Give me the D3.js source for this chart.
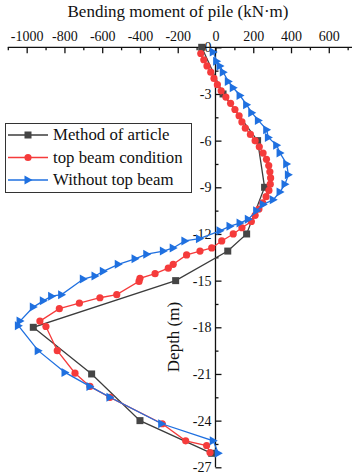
<!DOCTYPE html>
<html>
<head>
<meta charset="utf-8">
<script src="https://cdn.jsdelivr.net/npm/d3@7"></script>
<style>
body { margin: 0; background: #fff; }
svg text { font-family: "Liberation Serif", "Times New Roman", Times, Tinos, "DejaVu Serif", serif !important; fill: #111; }
</style>
</head>
<body>
<svg id="chart" width="353" height="476"></svg>
<script>
// depth (m) and bending moment (kN·m)
var articleDepth = [0, -3, -6, -9, -12, -13.1, -15, -18, -21, -24, -26.1]
var articleMoment = [-73, 40, 223, 260, 165, 65, -211, -965, -656, -400, -20]

var beamDepth = [-0.4, -0.8, -1.2, -1.6, -2.0, -2.4, -2.8, -3.2, -3.6, -4.0, -4.4, -4.8, -5.2, -5.6, -6.0,
	-6.4, -6.8, -7.2, -7.6, -8.0, -8.4, -8.8, -9.2, -9.6, -10.0, -10.4, -10.8, -11.2, -11.6, -12.0,
	-12.45, -12.9, -13.1, -13.35, -13.95, -14.2, -14.55, -14.85, -15.05, -15.9, -16.1, -16.45, -16.8,
	-17.6, -17.95, -19.5, -20.95, -21.8, -22.5, -24.2, -25.3, -25.6, -26.05]
var beamMoment = [-78, -62, -45, -25, -8, 10, 30, 55, 80, 103, 125, 140, 158, 185, 210,
	232, 252, 270, 282, 288, 292, 290, 283, 268, 250, 230, 210, 190, 140, 94,
	33, -20, -82, -153, -224, -250, -320, -400, -405, -523, -612, -721, -827,
	-930, -898, -838, -744, -665, -559, -282, -158, -47, -29]

var freeDepth = [-0.3, -0.9, -1.2, -1.6, -2.2, -2.6, -3.1, -3.7, -4.2, -4.7, -5.3, -5.8, -6.3, -6.8,
	-7.5, -8.2, -8.8, -9.3, -9.8, -10.1, -10.5, -11.05, -11.3, -11.5, -11.8, -12.3, -12.45, -12.9,
	-13.1, -13.3, -13.6, -13.95, -14.4, -14.7, -14.9, -15.9, -16.0, -16.3, -16.7, -17.6, -17.9,
	-19.5, -20.9, -21.8, -22.5, -24.2, -25.3, -26.1]
var freeMoment = [-12, 6, 24, 41, 68, 94, 130, 165, 192, 227, 271, 280, 324, 342,
	377, 386, 368, 342, 306, 253, 218, 174, 130, 77, 24, -85, -162, -224,
	-276, -364, -426, -515, -594, -638, -700, -815, -868, -912, -965, -1035, -1044,
	-939, -797, -665, -559, -285, -12, 15]

var seriesNames = ["Method of article", "top beam condition", "Without top beam"]
var xTicks = [-1000, -800, -600, -400, -200, 0, 200, 400, 600]
var yTicks = [0, -3, -6, -9, -12, -15, -18, -21, -24, -27]

var svg = d3.select("#chart")
svg.append("rect").attr("width", 353).attr("height", 476).attr("fill", "#fff")

var x = d3.scaleLinear().domain([-1100, 723]).range([7.8, 352])
var y = d3.scaleLinear().domain([0, -27]).range([47.3, 467.3])

var styles = [
	{ color: "#3c3c3c", mark: "#454545", shape: "square" },
	{ color: "#f53b3b", mark: "#f53b3b", shape: "circle" },
	{ color: "#1f70e0", mark: "#1f70e0", shape: "triangle" }
]

function zip(ds, ms) {
	return ds.map(function(d, i) { return { d: d, m: ms[i] } })
}
var series = [zip(articleDepth, articleMoment), zip(beamDepth, beamMoment), zip(freeDepth, freeMoment)]

function drawMarker(g, shape, color, cx, cy) {
	if (shape == "square") {
		g.append("rect").attr("x", cx - 3.5).attr("y", cy - 3.5).attr("width", 7).attr("height", 7).attr("fill", color)
	} else if (shape == "circle") {
		g.append("circle").attr("cx", cx).attr("cy", cy).attr("r", 3.6).attr("fill", color)
	} else {
		g.append("path").attr("d", "M" + (cx + 4.5) + "," + cy + "L" + (cx - 3.5) + "," + (cy - 4.5) + "L" + (cx - 3.5) + "," + (cy + 4.5) + "Z").attr("fill", color)
	}
}

// axes
var xMajor = d3.axisTop(x).tickValues(xTicks).tickSize(-6).tickPadding(6).tickFormat(function(d){ return String(d) })
var gx = svg.append("g").attr("transform", "translate(0," + y(0) + ")").call(xMajor)
gx.select(".domain").attr("d", "M" + x(-1100) + ",0H352")
svg.append("g").attr("transform", "translate(0," + y(0) + ")")
	.call(d3.axisTop(x).tickValues([-1100, -900, -700, -500, -300, -100, 100, 300, 500, 700]).tickSize(-3).tickFormat(""))
	.select(".domain").remove()

var yMajor = d3.axisLeft(y).tickValues(yTicks).tickSize(-6).tickPadding(4).tickFormat(function(d){ return String(d) })
var gy = svg.append("g").attr("transform", "translate(" + x(0) + ",0)").call(yMajor)
gy.select(".domain").attr("d", "M0," + y(0) + "V" + y(-27))
svg.append("g").attr("transform", "translate(" + x(0) + ",0)")
	.call(d3.axisLeft(y).tickValues(d3.range(-1.5, -27, -3)).tickSize(-3).tickFormat(""))
	.select(".domain").remove()

svg.selectAll("g").attr("font-family", null)
svg.selectAll(".domain, .tick line").attr("stroke", "#111").attr("stroke-width", 1.3)
svg.selectAll(".tick text").attr("font-size", 14).attr("fill", "#111")

svg.append("text").attr("x", 178).attr("y", 17).attr("text-anchor", "middle").attr("font-size", 17)
	.text("Bending moment of pile (kN·m)")
svg.append("text").attr("transform", "translate(179,337) rotate(-90)").attr("text-anchor", "middle").attr("font-size", 17)
	.text("Depth (m)")

// curves
var line = d3.line().x(function(p){ return x(p.m) }).y(function(p){ return y(p.d) })
series.forEach(function(s, i) {
	var g = svg.append("g")
	g.append("path").attr("d", line(s)).attr("fill", "none").attr("stroke", styles[i].color).attr("stroke-width", 1.3)
	s.forEach(function(p) { drawMarker(g, styles[i].shape, styles[i].mark, x(p.m), y(p.d)) })
})

// legend
var lg = svg.append("g")
lg.append("rect").attr("x", 5.5).attr("y", 123.5).attr("width", 186).attr("height", 69)
	.attr("fill", "#fff").attr("stroke", "#333").attr("stroke-width", 1)
seriesNames.forEach(function(name, i) {
	var ly = 135 + i * 22.5
	lg.append("line").attr("x1", 8).attr("x2", 48).attr("y1", ly).attr("y2", ly)
		.attr("stroke", styles[i].color).attr("stroke-width", 1.3)
	drawMarker(lg, styles[i].shape, styles[i].mark, 28, ly)
	lg.append("text").attr("x", 53).attr("y", ly + 5).attr("font-size", 16.8).text(name)
})
</script>
</body>
</html>
